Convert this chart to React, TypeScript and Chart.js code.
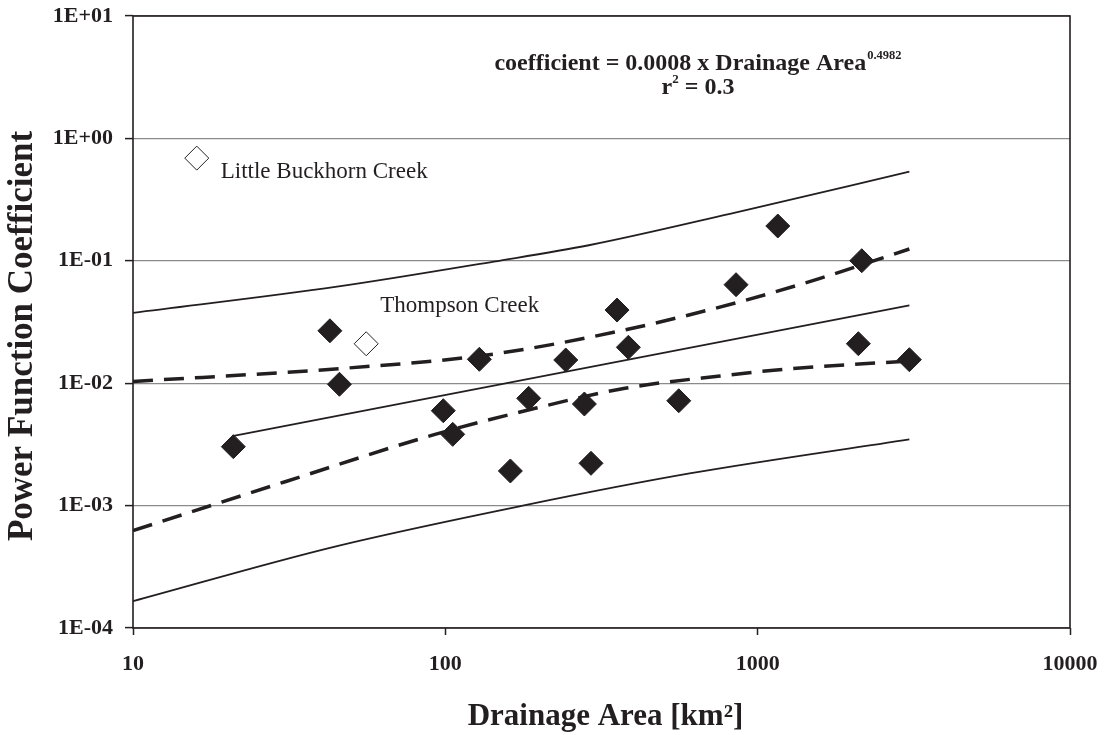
import React, { useEffect, useRef } from 'react';
import { Chart, registerables } from 'chart.js';

Chart.register(...registerables);

const INK = '#231f20';
const GRID = '#8a8a8a';
const FONT = '"Liberation Serif", "Times New Roman", serif';

const xTickValues = [10, 100, 1000, 10000];
const xTickLabels = ['10', '100', '1000', '10000'];
const yTickValues = [1e-4, 1e-3, 1e-2, 1e-1, 1e0, 1e1];
const yTickLabels = ['1E-04', '1E-03', '1E-02', '1E-01', '1E+00', '1E+01'];

const siteAreas = [20.95, 42.7, 45.8, 98.5, 105.6, 128.5, 161.5, 184.9, 243, 278.7, 292.7, 354.6, 385.5, 559, 852.6, 1160, 2101, 2154, 3060];
const siteCoefficients = [0.00303, 0.0268, 0.0098, 0.00596, 0.00382, 0.01568, 0.001918, 0.00752, 0.01547, 0.00676, 0.002216, 0.0396, 0.01965, 0.00719, 0.0638, 0.1924, 0.02102, 0.1002, 0.01556];

const outlierNames = ['Little Buckhorn Creek', 'Thompson Creek'];
const outlierAreas = [16.0, 55.8];
const outlierCoefficients = [0.69, 0.021];

const fitAreas = [21, 3060];
const fitCoefficients = [0.00371, 0.0433];

const upperPredAreas = [10, 45, 143, 288, 815, 3060];
const upperPredCoefficients = [0.0375, 0.0614, 0.0985, 0.134, 0.242, 0.535];
const lowerPredAreas = [10, 44, 177, 612, 3060];
const lowerPredCoefficients = [0.000166, 0.000461, 0.001, 0.00184, 0.00348];
const upperConfAreas = [10, 47.5, 136, 362, 878, 1584, 3060];
const upperConfCoefficients = [0.01033, 0.01324, 0.017, 0.0267, 0.0463, 0.0719, 0.1249];
const lowerConfAreas = [10, 30.7, 91.5, 194, 376, 758, 1298, 3060];
const lowerConfCoefficients = [0.000624, 0.001567, 0.00378, 0.00624, 0.00909, 0.01146, 0.01318, 0.01519];

const equationText = 'coefficient = 0.0008 x Drainage Area';
const equationExponent = '0.4982';
const r2Text = ' = 0.3';
const xTitle = 'Drainage Area [km²]';
const yTitle = 'Power Function Coefficient';

const zip = (xs: number[], ys: number[]) => xs.map((x, i) => ({ x, y: ys[i] }));

const framePlugin = {
  id: 'frame',
  afterDatasetsDraw(chart: any) {
    const { ctx, chartArea: a } = chart;
    ctx.save();
    ctx.strokeStyle = INK;
    ctx.lineWidth = 1.6;
    ctx.strokeRect(a.left, a.top, a.right - a.left, a.bottom - a.top);
    ctx.restore();
  },
};

const textPlugin = {
  id: 'texts',
  afterDraw(chart: any) {
    const { ctx, chartArea: a, scales } = chart;
    ctx.save();
    ctx.fillStyle = INK;
    ctx.textBaseline = 'alphabetic';
    ctx.textAlign = 'left';

    // regression equation
    const cx = a.left + (a.right - a.left) * 0.603;
    ctx.font = `bold 24px ${FONT}`;
    const wMain = ctx.measureText(equationText).width;
    ctx.font = `bold 12.5px ${FONT}`;
    const wSup = ctx.measureText(equationExponent).width;
    let x0 = cx - (wMain + wSup + 1) / 2;
    ctx.font = `bold 24px ${FONT}`;
    ctx.fillText(equationText, x0, a.top + 54);
    ctx.font = `bold 12.5px ${FONT}`;
    ctx.fillText(equationExponent, x0 + wMain + 1, a.top + 43);

    // r^2
    ctx.font = `bold 24px ${FONT}`;
    const wr = ctx.measureText('r').width;
    const wRest = ctx.measureText(r2Text).width;
    ctx.font = `bold 13px ${FONT}`;
    const w2 = ctx.measureText('2').width;
    x0 = cx - (wr + w2 + wRest) / 2;
    ctx.font = `bold 24px ${FONT}`;
    ctx.fillText('r', x0, a.top + 78);
    ctx.fillText(r2Text, x0 + wr + w2, a.top + 78);
    ctx.font = `bold 13px ${FONT}`;
    ctx.fillText('2', x0 + wr, a.top + 67);

    // outlier labels
    ctx.font = `23px ${FONT}`;
    const offsets = [
      [24, 20],
      [14, -32],
    ];
    outlierNames.forEach((name, i) => {
      const px = scales.x.getPixelForValue(outlierAreas[i]);
      const py = scales.y.getPixelForValue(outlierCoefficients[i]);
      ctx.fillText(name, px + offsets[i][0], py + offsets[i][1]);
    });

    // axis titles
    ctx.textAlign = 'center';
    ctx.font = `bold 31px ${FONT}`;
    ctx.fillText(xTitle, (a.left + a.right) / 2 + 4, 725);
    ctx.save();
    ctx.font = `bold 35px ${FONT}`;
    ctx.translate(32, (a.top + a.bottom) / 2 + 14);
    ctx.rotate(-Math.PI / 2);
    ctx.fillText(yTitle, 0, 0);
    ctx.restore();
    ctx.restore();
  },
};

export default function App() {
  const ref = useRef<HTMLCanvasElement | null>(null);

  useEffect(() => {
    document.body.style.margin = '0';
    if (!ref.current) return;
    const lineBase = {
      showLine: true,
      pointRadius: 0,
      pointHoverRadius: 0,
      borderColor: INK,
      fill: false,
      order: 2,
    };
    const chart = new Chart(ref.current, {
      type: 'scatter',
      data: {
        datasets: [
          {
            label: 'Sites',
            data: zip(siteAreas, siteCoefficients),
            pointStyle: 'rectRot',
            pointRadius: 12,
            backgroundColor: INK,
            borderColor: INK,
            borderWidth: 1,
            order: 0,
          },
          {
            label: 'Excluded',
            data: zip(outlierAreas, outlierCoefficients),
            pointStyle: 'rectRot',
            pointRadius: 12,
            backgroundColor: '#ffffff',
            borderColor: INK,
            borderWidth: 1,
            order: 0,
          },
          { ...lineBase, label: 'Fit', data: zip(fitAreas, fitCoefficients), borderWidth: 1.8 },
          { ...lineBase, label: 'Upper prediction', data: zip(upperPredAreas, upperPredCoefficients), borderWidth: 1.8, cubicInterpolationMode: 'monotone' },
          { ...lineBase, label: 'Lower prediction', data: zip(lowerPredAreas, lowerPredCoefficients), borderWidth: 1.8, cubicInterpolationMode: 'monotone' },
          { ...lineBase, label: 'Upper confidence', data: zip(upperConfAreas, upperConfCoefficients), borderWidth: 3.5, borderDash: [20, 11], cubicInterpolationMode: 'monotone' },
          { ...lineBase, label: 'Lower confidence', data: zip(lowerConfAreas, lowerConfCoefficients), borderWidth: 3.5, borderDash: [20, 11], cubicInterpolationMode: 'monotone' },
        ] as any,
      },
      options: {
        responsive: false,
        animation: false,
        events: [],
        layout: { padding: { top: 16, right: 36, left: 0, bottom: 0 } },
        plugins: { legend: { display: false }, tooltip: { enabled: false }, title: { display: false } },
        scales: {
          x: {
            type: 'logarithmic',
            min: 10,
            max: 10000,
            afterBuildTicks: (axis: any) => {
              axis.ticks = xTickValues.map((value) => ({ value }));
            },
            afterFit: (axis: any) => {
              axis.height = 107;
              axis.paddingLeft = 0;
              axis.paddingRight = 0;
              axis.paddingTop = 0;
              axis.paddingBottom = 0;
            },
            ticks: {
              autoSkip: false,
              maxRotation: 0,
              padding: 16,
              color: INK,
              font: { family: FONT, size: 22, weight: 'bold' },
              callback: (value: any) => xTickLabels[xTickValues.indexOf(Number(value))],
            },
            grid: { drawOnChartArea: false, drawTicks: true, tickLength: 7, tickColor: INK, tickWidth: 1.5 },
            border: { display: false },
          },
          y: {
            type: 'logarithmic',
            min: 1e-4,
            max: 10,
            afterBuildTicks: (axis: any) => {
              axis.ticks = yTickValues.map((value) => ({ value }));
            },
            afterFit: (axis: any) => {
              axis.width = 133;
              axis.paddingLeft = 0;
              axis.paddingRight = 0;
              axis.paddingTop = 0;
              axis.paddingBottom = 0;
            },
            ticks: {
              autoSkip: false,
              padding: 12,
              color: INK,
              font: { family: FONT, size: 22, weight: 'bold' },
              callback: (value: any) => yTickLabels[yTickValues.indexOf(Number(value))],
            },
            grid: { color: GRID, lineWidth: 1.2, drawTicks: true, tickLength: 8, tickColor: INK, tickWidth: 1.5 },
            border: { display: false },
          },
        },
      } as any,
      plugins: [framePlugin, textPlugin],
    });
    return () => chart.destroy();
  }, []);

  return (
    <div style={{ width: 1106, height: 735, background: '#ffffff' }}>
      <canvas ref={ref} width={1106} height={735} style={{ display: 'block' }} />
    </div>
  );
}
